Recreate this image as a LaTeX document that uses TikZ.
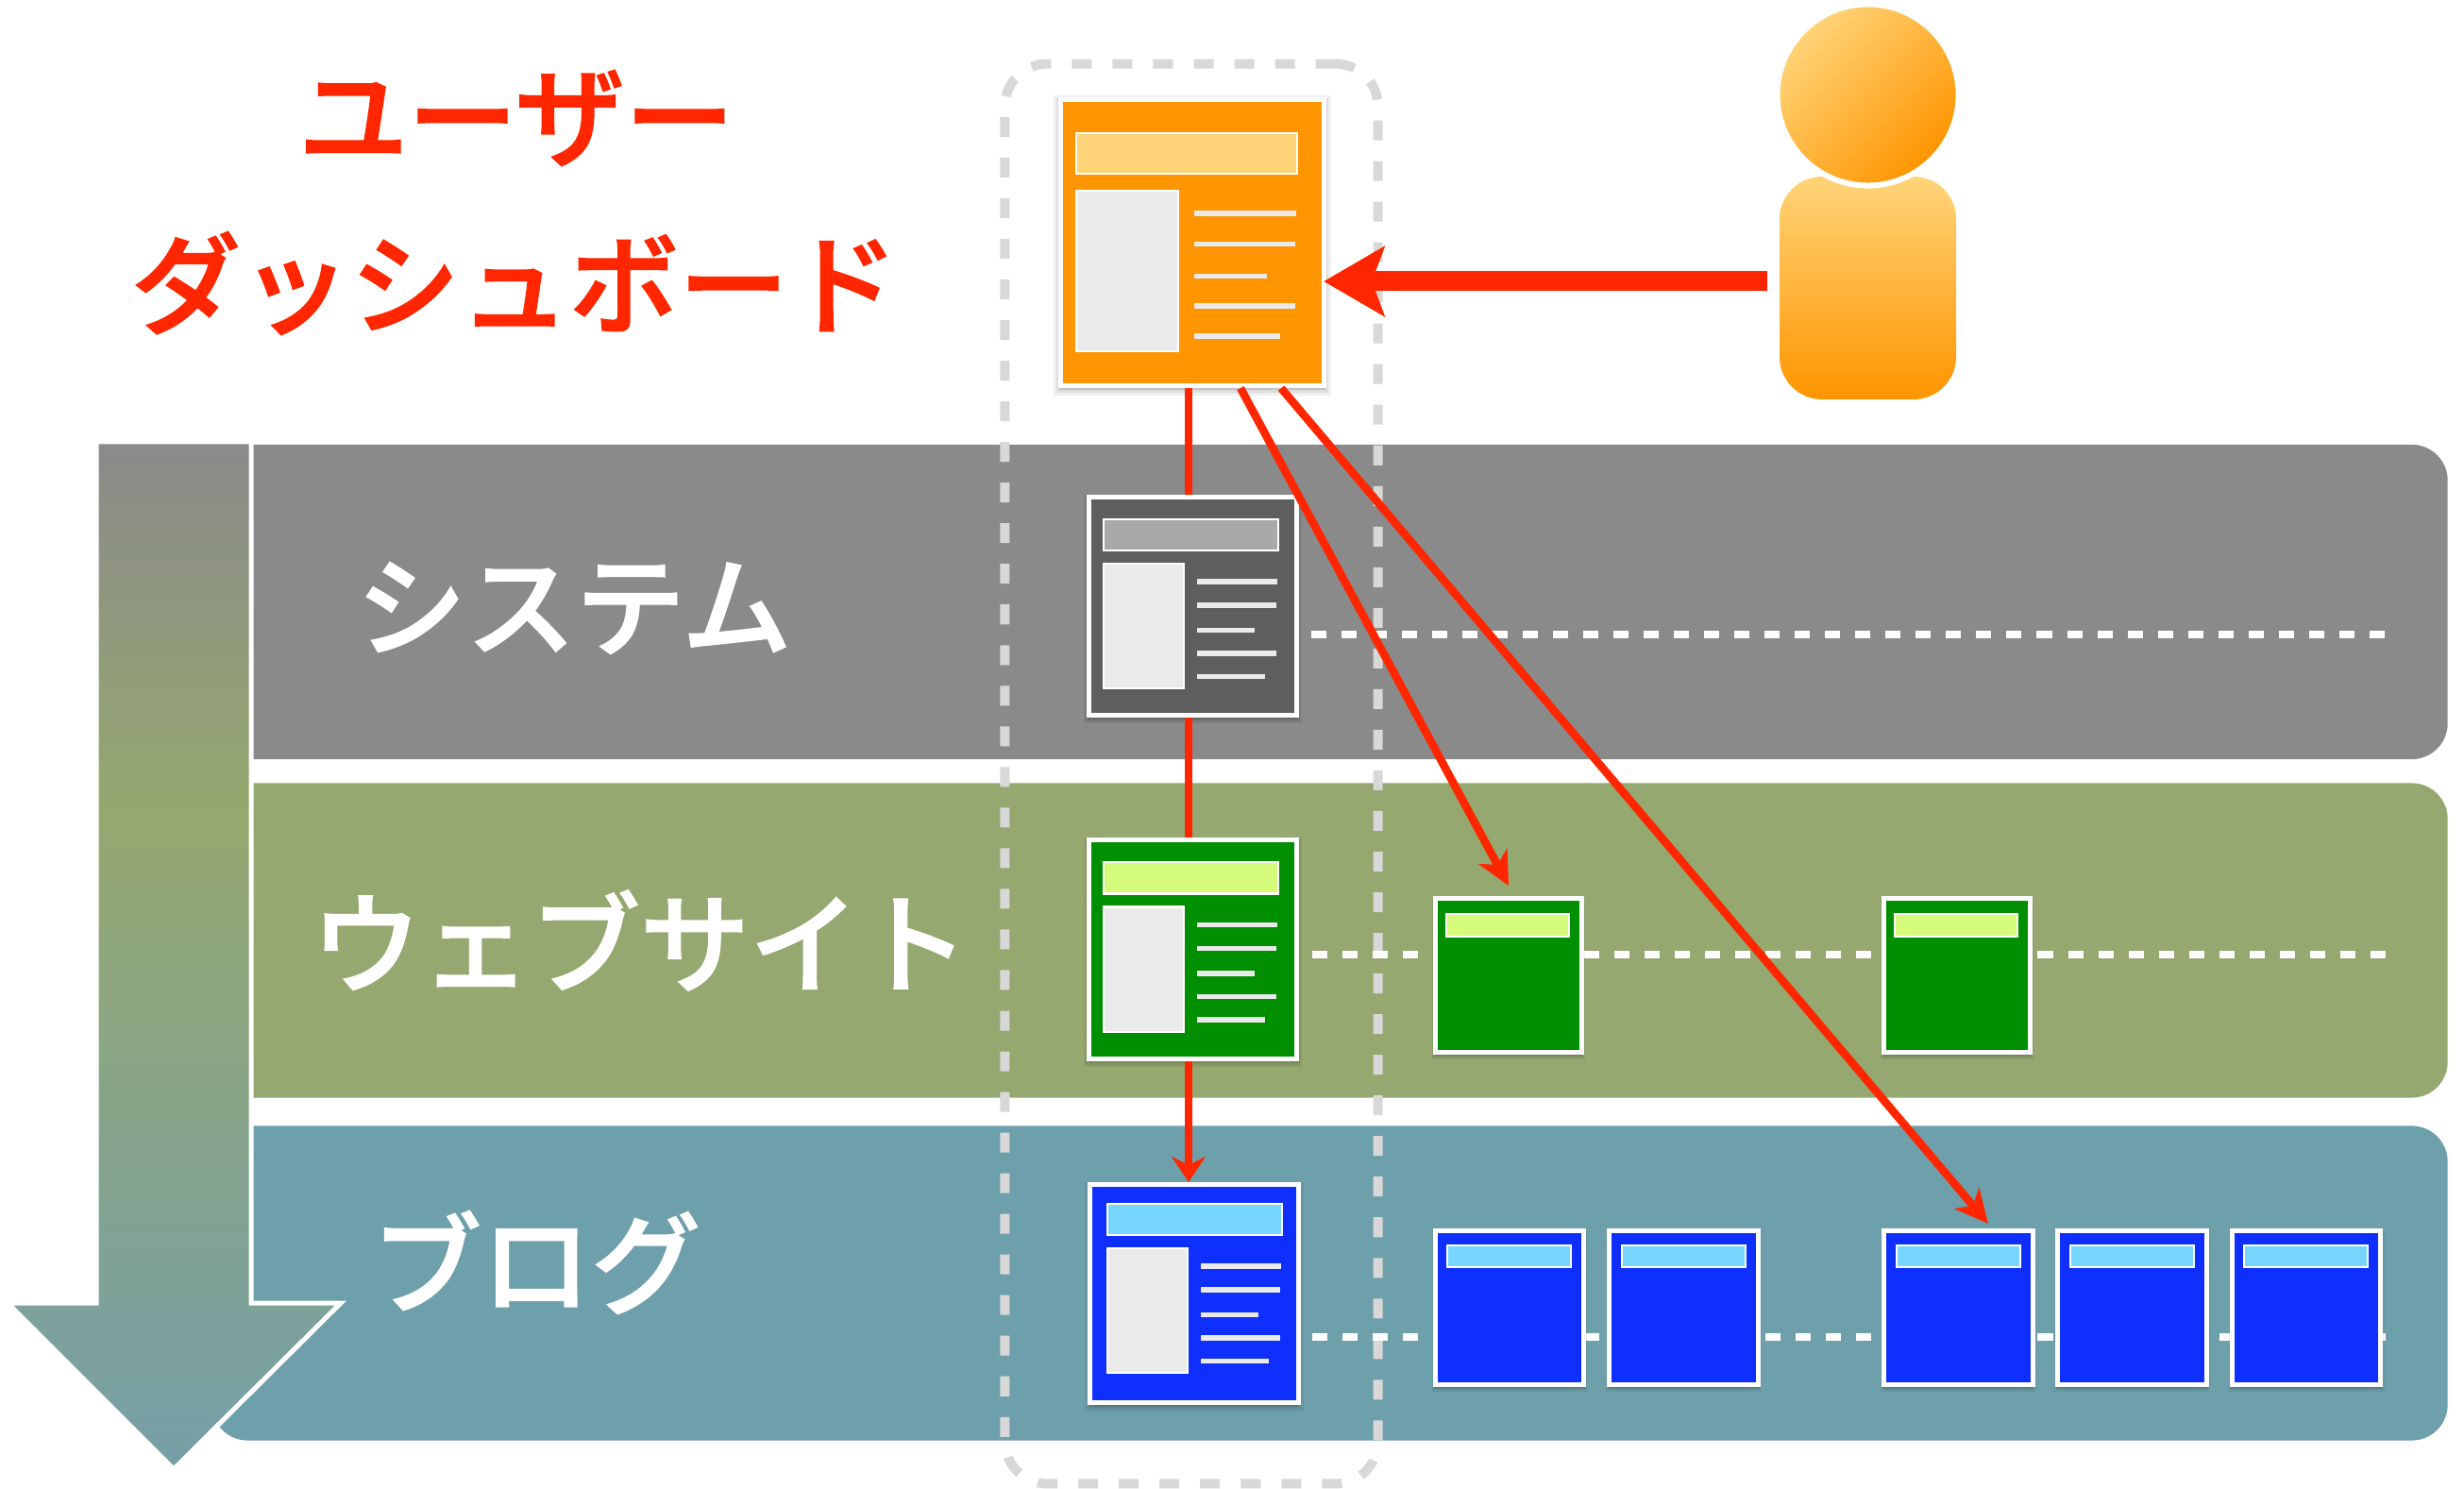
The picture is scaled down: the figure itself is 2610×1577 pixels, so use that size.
\documentclass[tikz,border=0pt]{standalone}
\usepackage{fontspec}
\newfontfamily\cjk{Noto Sans CJK JP}[UprightFont=* Medium,FakeBold=1.5]
\usetikzlibrary{arrows.meta,shadows}

\definecolor{redline}{HTML}{FF2600}
\definecolor{orangepage}{HTML}{FF9500}
\definecolor{orangehead}{HTML}{FFD478}
\definecolor{graypage}{HTML}{5E5E5E}
\definecolor{grayhead}{HTML}{A9A9A9}
\definecolor{greenpage}{HTML}{008F00}
\definecolor{greenhead}{HTML}{D4FB79}
\definecolor{bluepage}{HTML}{0F2FFF}
\definecolor{bluehead}{HTML}{76D6FF}
\definecolor{blockgray}{HTML}{EAEAEA}
\definecolor{selgray}{HTML}{D8D8D8}
\definecolor{systemband}{HTML}{8A8A8A}
\definecolor{websiteband}{HTML}{95A86F}
\definecolor{blogband}{HTML}{6EA0AC}
\definecolor{flowtip}{HTML}{769FA8}

\pgfdeclareverticalshading{flowshade}{100bp}{color(0bp)=(flowtip); color(25bp)=(flowtip); color(57bp)=(websiteband); color(75bp)=(systemband); color(100bp)=(systemband)}

\tikzset{
    bigtip/.tip={Stealth[length=0.64cm,width=0.73cm,inset=0.13cm]},
    slanttip/.tip={Stealth[length=0.35cm,width=0.34cm,inset=0.1cm]},
    downtip/.tip={Stealth[length=0.27cm,width=0.36cm,inset=0.09cm]},
    bandbox/.style={rounded corners=0.38cm,minimum width=23.67cm,minimum height=3.33cm,inner sep=0pt},
    selbox/.style={draw=selgray,line width=0.1cm,rounded corners=0.45cm,dash pattern=on 0.21cm off 0.22cm,minimum width=3.95cm,minimum height=15.03cm,inner sep=0pt},
    pagebox/.style={draw=white,line width=0.05cm,inner sep=0pt,
        general shadow={fill=black,opacity=0.06,shadow scale=1.05,shadow yshift=-0.03cm},
        general shadow={fill=black,opacity=0.08,shadow scale=1.03,shadow yshift=-0.03cm},
        general shadow={fill=black,opacity=0.12,shadow scale=1.01,shadow yshift=-0.03cm}},
    midpage/.style={pagebox,minimum width=2.2cm,minimum height=2.31cm},
    smallpage/.style={pagebox,minimum width=1.57cm,minimum height=1.63cm},
    headbar/.style={draw=white,line width=0.02cm},
    sideblock/.style={draw=white,line width=0.02cm,fill=blockgray},
    textline/.style={draw=blockgray,line width=0.055cm},
    dotline/.style={draw=white,line width=0.075cm,dash pattern=on 0.16cm off 0.16cm},
    arrowline/.style={draw=redline,line width=0.085cm},
    title/.style={font=\cjk\fontsize{33pt}{33pt}\selectfont,inner sep=0pt}
}

\newcommand{\pagecontent}[5]{
    \begin{scope}[shift={(#1,#2)},xscale=#3,yscale=#4]
        \draw[headbar,fill=#5] (0,0) rectangle (185,33);
        \draw[sideblock] (0,47) rectangle (85,179);
        \foreach \liney/\lineend in {66/202,91/201,117.5/178,142/201,166.5/189}
            \draw[textline] (99,\liney) -- (\lineend-18,\liney);
    \end{scope}
}

\begin{document}
\begin{tikzpicture}[x=0.01cm,y=-0.01cm]
    \useasboundingbox (0,0) rectangle (2610,1577);

    \node[bandbox,fill=systemband] (system) at (1408.5,637.5) {};
    \node[bandbox,fill=websiteband] (website) at (1408.5,996) {};
    \node[bandbox,fill=blogband] (blog) at (1408.5,1359) {};

    \path[draw=white,line width=0.05cm,shading=flowshade] (102,468) -- (266,468) -- (266,1380) -- (361,1380) -- (184,1556) -- (8,1380) -- (102,1380) -- cycle;

    \node[selbox] (selection) at (1262,819.5) {};

    \node[title,text=redline] (usertitle) at (547,125) {ユーザー};
    \node[title,text=redline] (dashtitle) at (545,300) {ダッシュボード};
    \node[title,text=white] (systemtitle) at (608,644) {システム};
    \node[title,text=white] (websitetitle) at (678,996) {ウェブサイト};
    \node[title,text=white] (blogtitle) at (568,1337) {ブログ};

    \coordinate (systemstart) at (1389,672);
    \coordinate (systemend) at (2530,672);
    \coordinate (websitestart) at (1390,1011);
    \coordinate (websiteend) at (2530,1011);
    \coordinate (blogstart) at (1390,1416);
    \coordinate (blogend) at (2530,1416);
    \draw[dotline] (systemstart) -- (systemend);
    \draw[dotline] (websitestart) -- (websiteend);
    \draw[dotline] (blogstart) -- (blogend);

    \node[pagebox,fill=orangepage,minimum width=2.79cm,minimum height=3.03cm] (dashpage) at (1263,257) {};
    \pagecontent{1140}{141}{1.265}{1.29}{orangehead}

    \node[midpage,fill=graypage] (systempage) at (1263.5,642) {};
    \node[midpage,fill=greenpage] (websitepage) at (1263.5,1005.5) {};
    \node[midpage,fill=bluepage] (blogpage) at (1265,1370) {};
    \pagecontent{1169}{550}{1}{1}{grayhead}
    \pagecontent{1169}{913.5}{1}{1}{greenhead}
    \pagecontent{1173}{1275}{1}{1}{bluehead}

    \foreach \name/\pagex/\headx in {websiteone/1598/1532,websitetwo/2073/2007}{
        \node[smallpage,fill=greenpage,minimum width=1.55cm] (\name) at (\pagex,1033) {};
        \draw[headbar,fill=greenhead] (\headx,968) rectangle (\headx+130,992);
    }
    \foreach \name/\pagex in {blogone/1599,blogtwo/1783.5,blogthree/2074.5,blogfour/2258.5,blogfive/2443}{
        \node[smallpage,fill=bluepage] (\name) at (\pagex,1385) {};
        \draw[headbar,fill=bluehead] (\pagex-66,1319) rectangle (\pagex+65,1342);
    }

    \shade[top color=orangehead,bottom color=orangepage,rounded corners=0.45cm] (1885,187) rectangle (2072,423);
    \node[circle,draw=white,line width=0.06cm,minimum size=1.92cm,inner sep=0pt,top color=orangehead,bottom color=orangepage,shading angle=45] (userhead) at (1978.5,100.5) {};
    \coordinate (userhand) at (1872,298);

    \draw[arrowline,-{slanttip}] ([shift={(51,0)}]dashpage.south) -- ([shift={(0,-11)}]websiteone.north);
    \draw[arrowline,-{slanttip}] ([shift={(94,0)}]dashpage.south) -- ([shift={(31.5,-5)}]blogthree.north);
    \draw[arrowline] ([shift={(-4,0)}]dashpage.south) -- ([shift={(-4.5,0)}]systempage.north);
    \draw[arrowline] ([shift={(-4.5,0)}]systempage.south) -- ([shift={(-4.5,0)}]websitepage.north);
    \draw[arrowline,-{downtip}] ([shift={(-4.5,0)}]websitepage.south) -- ([shift={(-6,0)}]blogpage.north);
    \draw[redline,line width=0.21cm,-{bigtip}] (userhand) -- ([shift={(-3,0)}]dashpage.east |- userhand);
\end{tikzpicture}
\end{document}
